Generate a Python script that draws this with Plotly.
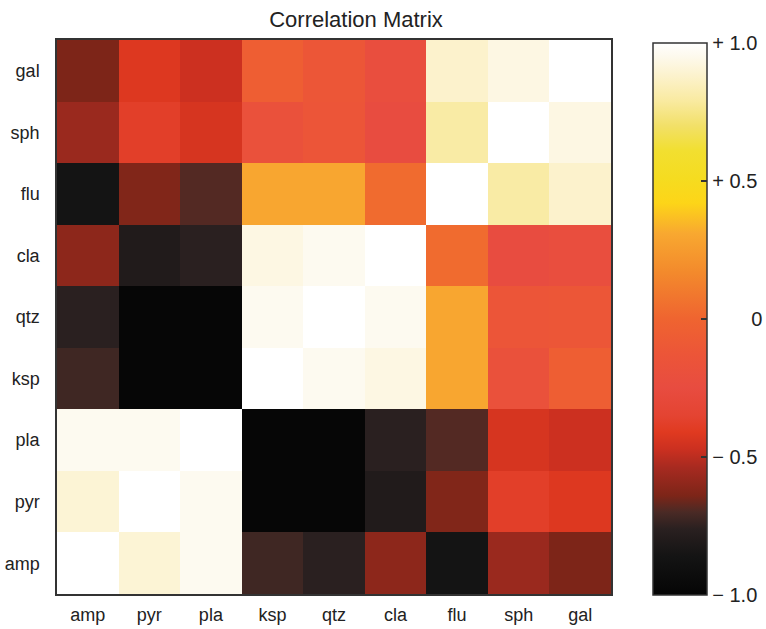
import plotly.graph_objects as go

# Column labels (left -> right)
x_labels = ["amp", "pyr", "pla", "ksp", "qtz", "cla", "flu", "sph", "gal"]
# Row labels (top -> bottom)
y_labels = ["gal", "sph", "flu", "cla", "qtz", "ksp", "pla", "pyr", "amp"]

# Correlation values, one list per row (top -> bottom), columns as x_labels
row_gal = [-0.64, -0.42, -0.47, -0.05, -0.12, -0.22, 0.88, 0.93, 1.00]
row_sph = [-0.57, -0.38, -0.44, -0.18, -0.13, -0.25, 0.80, 1.00, 0.93]
row_flu = [-0.86, -0.63, -0.69, 0.30, 0.30, 0.03, 1.00, 0.80, 0.88]
row_cla = [-0.60, -0.80, -0.76, 0.93, 0.96, 1.00, 0.03, -0.25, -0.22]
row_qtz = [-0.76, -0.99, -0.99, 0.96, 1.00, 0.96, 0.30, -0.13, -0.12]
row_ksp = [-0.72, -0.99, -0.99, 1.00, 0.96, 0.93, 0.30, -0.18, -0.05]
row_pla = [0.96, 0.96, 1.00, -0.99, -0.99, -0.76, -0.69, -0.44, -0.47]
row_pyr = [0.90, 1.00, 0.96, -0.99, -0.99, -0.80, -0.63, -0.38, -0.42]
row_amp = [1.00, 0.90, 0.96, -0.72, -0.76, -0.60, -0.86, -0.57, -0.64]

z = [row_gal, row_sph, row_flu, row_cla, row_qtz, row_ksp, row_pla, row_pyr, row_amp]

cbar_tickvals = [-1.0, -0.5, 0.0, 0.5, 1.0]
cbar_ticktext = ["\u2212 1.0", "\u2212 0.5", "\u00a0" * 7 + "0", "+ 0.5", "+ 1.0"]

colorscale = [
    [0.00, "#050505"],
    [0.07, "#141414"],
    [0.12, "#2a2020"],
    [0.15, "#4a2a25"],
    [0.18, "#7d2518"],
    [0.23, "#a62a20"],
    [0.265, "#cc3020"],
    [0.295, "#e03a20"],
    [0.325, "#e44432"],
    [0.375, "#e84c40"],
    [0.435, "#ec5538"],
    [0.50, "#ef6430"],
    [0.585, "#f38a2c"],
    [0.655, "#f8a830"],
    [0.71, "#fdd518"],
    [0.755, "#f5dc20"],
    [0.805, "#f2df30"],
    [0.85, "#f2e068"],
    [0.895, "#f9eaa0"],
    [0.94, "#fcf2cc"],
    [0.975, "#fdf9ec"],
    [1.00, "#ffffff"],
]

font_family = "Liberation Sans, Arial, Helvetica, sans-serif"

# plot area geometry (pixels) used for the colourbar placement
W, H = 766, 629
L, R, T, B = 57, 155, 40, 35
plot_w = W - L - R
plot_h = H - T - B
bar_left, bar_top, bar_bottom, bar_thick = 653, 43, 595, 54
bar_x = (bar_left - L) / plot_w
bar_yc = 1 - ((bar_top + bar_bottom) / 2 - T) / plot_h
bar_len = bar_bottom - bar_top

fig = go.Figure(
    go.Heatmap(
        z=z,
        x=x_labels,
        y=y_labels,
        zmin=-1,
        zmax=1,
        colorscale=colorscale,
        colorbar=dict(
            x=bar_x,
            xanchor="left",
            y=bar_yc,
            yanchor="middle",
            thickness=bar_thick,
            thicknessmode="pixels",
            len=bar_len,
            lenmode="pixels",
            outlinewidth=1.5,
            outlinecolor="#333333",
            tickvals=cbar_tickvals,
            ticktext=cbar_ticktext,
            ticks="inside",
            ticklen=6,
            tickwidth=1.5,
            tickcolor="#333333",
            tickfont=dict(size=20, color="#222222", family=font_family),
            xpad=0,
            ypad=0,
        ),
        hoverongaps=False,
    )
)

fig.update_layout(
    width=W,
    height=H,
    margin=dict(l=L, r=R, t=T, b=B, autoexpand=False),
    paper_bgcolor="white",
    plot_bgcolor="white",
    font=dict(family=font_family, color="#222222"),
    title=dict(
        text="Correlation Matrix",
        xref="container",
        x=356 / W,
        xanchor="center",
        yref="container",
        y=1 - 19 / H,
        yanchor="middle",
        font=dict(size=22, color="#222222", family=font_family),
    ),
)

fig.update_xaxes(
    showline=True,
    linecolor="#333333",
    linewidth=1.5,
    mirror=True,
    ticks="",
    showgrid=False,
    zeroline=False,
    tickfont=dict(size=18, color="#222222"),
    ticklabelstandoff=4,
)
fig.update_yaxes(
    showline=True,
    linecolor="#333333",
    linewidth=1.5,
    mirror=True,
    ticks="",
    showgrid=False,
    zeroline=False,
    autorange="reversed",
    tickfont=dict(size=18, color="#222222"),
    ticklabelstandoff=12,
)

fig.write_html(
    "out.html",
    config={"displayModeBar": False},
    post_script="document.body.style.margin='0';document.body.style.overflow='hidden';",
)
